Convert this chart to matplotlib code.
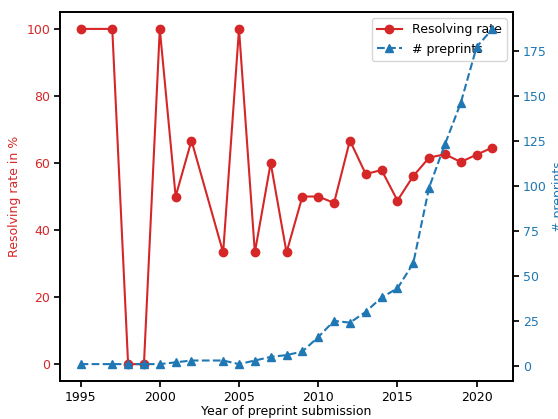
import numpy as np
import matplotlib
matplotlib.use("Agg")
import matplotlib.pyplot as plt

years = [1995, 1997, 1998, 1999, 2000, 2001, 2002, 2004, 2005, 2006, 2007, 2008,
         2009, 2010, 2011, 2012, 2013, 2014, 2015, 2016, 2017, 2018, 2019, 2020, 2021]
resolving_rate = [100, 100, 0, 0, 100, 50, 66.7, 33.3, 100, 33.3, 60, 33.3,
                  50, 50, 48.1, 66.7, 56.7, 57.9, 48.8, 56.1, 61.6, 62.6, 60.3, 62.5, 64.6]
n_preprints = [1, 1, 1, 1, 1, 2, 3, 3, 1, 3, 5, 6,
               8, 16, 25, 24, 30, 38, 43, 57, 99, 123, 146, 177, 187]

red = "#d62728"
blue = "#1f77b4"

fig = plt.figure(figsize=(5.58, 4.19), dpi=100)
ax = fig.add_axes([0.1075, 0.091, 0.812, 0.880])
ax2 = ax.twinx()

l1, = ax.plot(years, resolving_rate, color=red, marker="o", markersize=6,
              linewidth=1.5, label="Resolving rate")
l2, = ax2.plot(years, n_preprints, color=blue, marker="^", markersize=6,
               linewidth=1.5, linestyle="--", label="# preprints")

ax.set_xlabel("Year of preprint submission", fontsize=9, labelpad=1)
ax.set_ylabel("Resolving rate in %", color=red, fontsize=9)
ax2.set_ylabel("# preprints", color=blue, fontsize=9)

ax.set_xticks([1995, 2000, 2005, 2010, 2015, 2020])
ax.tick_params(axis="y", labelcolor=red)
ax2.tick_params(axis="y", labelcolor=blue)
for a in (ax, ax2):
    a.tick_params(labelsize=9, width=1.25, length=4, pad=3)
    for s in a.spines.values():
        s.set_linewidth(1.25)

ax.legend(handles=[l1, l2], loc="upper right", fontsize=9)

fig.savefig("out.png", dpi=100)
